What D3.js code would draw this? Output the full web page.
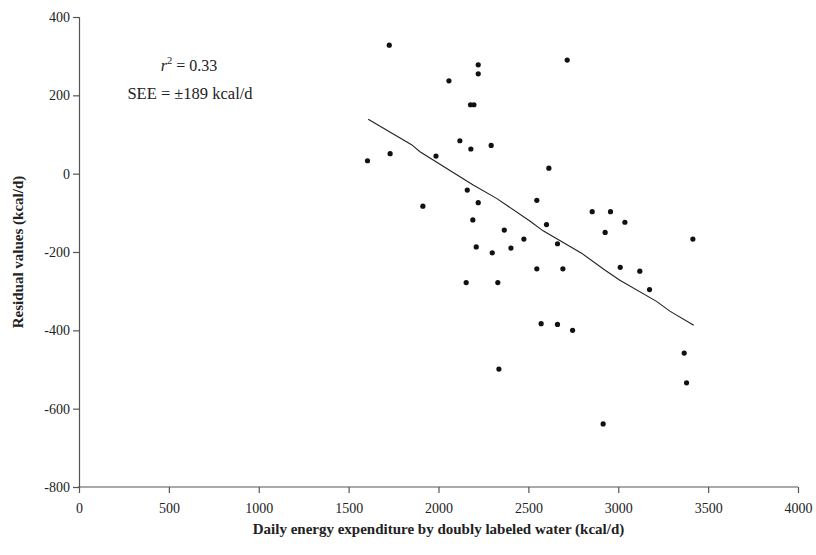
<!DOCTYPE html>
<html>
<head>
<meta charset="utf-8">
<script src="https://cdn.jsdelivr.net/npm/d3@7"></script>
<style>
  body { margin: 0; background: #fff; }
  text { font-family: "Liberation Serif", "Times New Roman", serif; fill: #222; }
</style>
</head>
<body>
<div id="chart"></div>
<script>
/* residuals vs DLW energy expenditure */
var W = 816, H = 555;

var deeX = [1605, 1726, 1731, 1913, 1986, 2058, 2119, 2154, 2160, 2178, 2197, 2180,
  2191, 2210, 2221, 2221, 2221, 2293, 2299, 2330, 2336, 2366, 2403, 2475, 2547,
  2547, 2571, 2601, 2614, 2662, 2662, 2692, 2716, 2746, 2855, 2916, 2927, 2957,
  3011, 3037, 3120, 3174, 3367, 3380, 3415];
var residY = [33, 328, 51, -83, 45, 237, 84, -278, -42, 176, 176, 63,
  -118, -187, 278, 255, -74, 72, -202, -278, -499, -144, -190, -167, -68,
  -243, -383, -130, 14, -179, -385, -243, 290, -400, -97, -639, -150, -97,
  -239, -124, -249, -296, -458, -534, -167];

/* trend line as drawn (slightly kinked polyline) */
var trendX = [1609, 1850, 1897, 2193, 2323, 2508, 2582, 2796, 2925, 3009, 3213, 3287, 3420];
var trendY = [139, 74, 56, -29, -63, -121, -146, -203, -246, -272, -326, -351, -387];

var xTicks = [0, 500, 1000, 1500, 2000, 2500, 3000, 3500, 4000];
var yTicks = [400, 200, 0, -200, -400, -600, -800];

var m = { left: 79, right: 18, top: 17, bottom: 68 };

var svg = d3.select('#chart').append('svg')
  .attr('width', W).attr('height', H);

var x = d3.scaleLinear().domain([0, 4000]).range([m.left, W - m.right]);
var y = d3.scaleLinear().domain([-800, 400]).range([H - m.bottom, m.top]);

/* axes */
var xAxis = svg.append('g')
  .attr('transform', 'translate(0,' + y(-800) + ')')
  .call(d3.axisBottom(x).tickValues(xTicks).tickSize(6).tickPadding(10).tickFormat(d3.format('d')));
var yAxis = svg.append('g')
  .attr('transform', 'translate(' + x(0) + ',0)')
  .call(d3.axisLeft(y).tickValues(yTicks).tickSize(6).tickPadding(3).tickFormat(function (d) { return d; }));

[xAxis, yAxis].forEach(function (g) {
  g.select('.domain').attr('stroke', '#555').attr('stroke-width', 1.2);
  g.selectAll('.tick line').attr('stroke', '#555').attr('stroke-width', 1.2);
  g.selectAll('.tick text')
    .style('font-family', '"Liberation Serif", serif')
    .style('font-size', '14px').attr('fill', '#222');
});
xAxis.select('.domain').attr('d', 'M' + (x(0) - 1) + ',0H' + x(4000));

/* trend line */
var pts = trendX.map(function (v, i) { return [v, trendY[i]]; });
svg.append('path')
  .datum(pts)
  .attr('d', d3.line().x(function (d) { return x(d[0]); }).y(function (d) { return y(d[1]); }))
  .attr('fill', 'none').attr('stroke', '#222').attr('stroke-width', 1.1);

/* points */
svg.append('g').selectAll('circle')
  .data(deeX.map(function (v, i) { return [v, residY[i]]; }))
  .enter().append('circle')
  .attr('cx', function (d) { return x(d[0]); })
  .attr('cy', function (d) { return y(d[1]); })
  .attr('r', 2.6).attr('fill', '#111');

/* annotation */
var ann = svg.append('text').attr('x', 189).attr('y', 71)
  .attr('text-anchor', 'middle').style('font-size', '16px');
ann.append('tspan').style('font-style', 'italic').text('r');
ann.append('tspan').attr('dy', -7).style('font-size', '10.5px').text('2');
ann.append('tspan').attr('dy', 7).text(' = 0.33');
svg.append('text').attr('x', 190).attr('y', 99)
  .attr('text-anchor', 'middle').style('font-size', '16.5px')
  .text('SEE = \u00b1189 kcal/d');

/* axis titles */
svg.append('text')
  .attr('x', (x(0) + x(4000)) / 2).attr('y', 534)
  .attr('text-anchor', 'middle')
  .style('font-size', '15px').style('font-weight', 'bold')
  .text('Daily energy expenditure by doubly labeled water (kcal/d)');
svg.append('text')
  .attr('transform', 'translate(23,' + y(-200) + ') rotate(-90)')
  .attr('text-anchor', 'middle')
  .style('font-size', '15px').style('font-weight', 'bold')
  .text('Residual values (kcal/d)');
</script>
</body>
</html>
